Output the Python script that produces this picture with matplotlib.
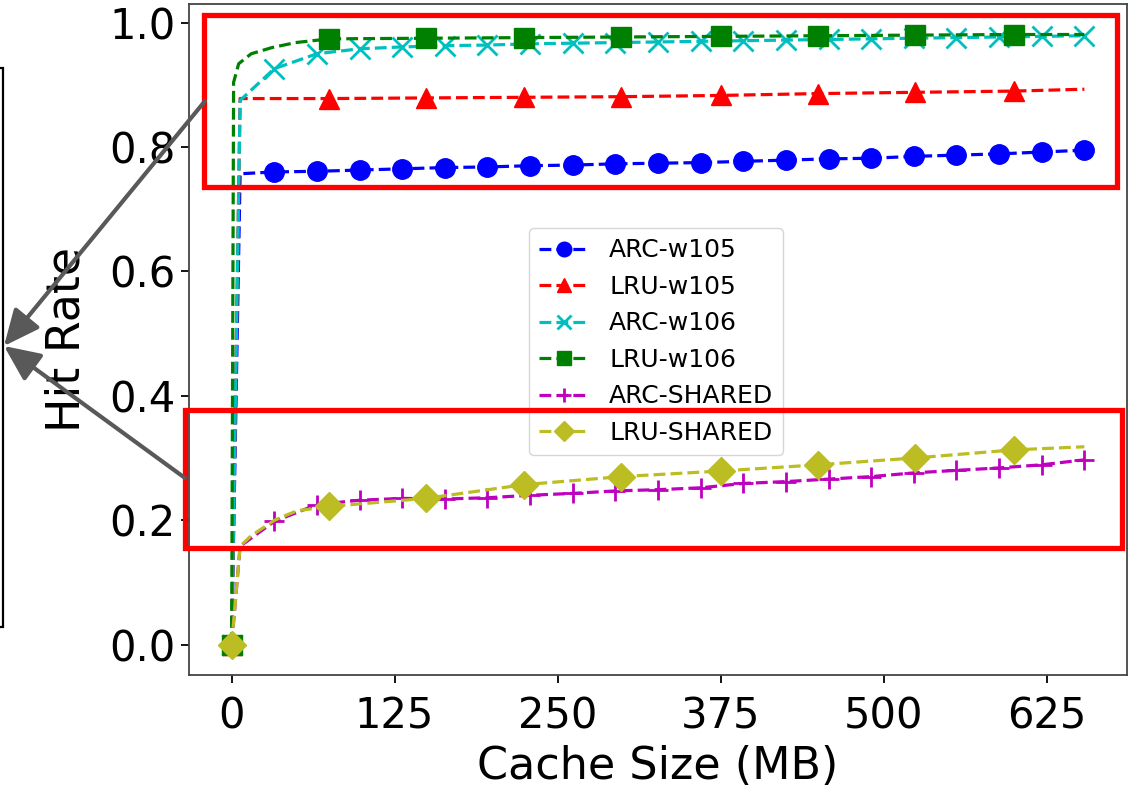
"""Hit rate vs cache size, ARC vs LRU, with slide-style callout boxes."""

import matplotlib

matplotlib.use("Agg")
import matplotlib.pyplot as plt  # noqa: E402
from matplotlib.patches import FancyArrowPatch, Rectangle  # noqa: E402

# ARC runs: 0, a small first size, then 20 evenly spaced cache sizes (MB)
arc_x = [0, 6.5, 32.7, 65.4, 98.1, 130.8, 163.5, 196.2, 228.9, 261.6, 294.3, 327.0,
         359.7, 392.4, 425.1, 457.8, 490.5, 523.2, 555.9, 588.6, 621.3, 654.0]
arc_w105 = [0, 0.757, 0.760, 0.761, 0.763, 0.765, 0.767, 0.768, 0.770, 0.771, 0.773, 0.774,
            0.775, 0.777, 0.779, 0.781, 0.782, 0.785, 0.787, 0.789, 0.792, 0.795]
arc_w106 = [0, 0.875, 0.926, 0.950, 0.958, 0.961, 0.963, 0.964, 0.966, 0.967, 0.968, 0.969,
            0.970, 0.971, 0.972, 0.973, 0.974, 0.975, 0.976, 0.977, 0.978, 0.979]
arc_shared = [0, 0.158, 0.198, 0.225, 0.232, 0.235, 0.234, 0.236, 0.240, 0.243, 0.247, 0.249,
              0.252, 0.259, 0.262, 0.266, 0.270, 0.276, 0.280, 0.284, 0.289, 0.297]

# LRU runs
lru_w105_x = [0, 6.5, 75, 149, 224, 299, 375, 450, 524, 600, 654]
lru_w105 = [0, 0.878, 0.878, 0.879, 0.880, 0.881, 0.883, 0.886, 0.888, 0.890, 0.893]
lru_w106_x = [0, 1.5, 5.4, 15, 31, 49, 75, 149, 224, 299, 375, 450, 524, 600, 654]
lru_w106 = [0, 0.904, 0.934, 0.950, 0.960, 0.968, 0.974, 0.975, 0.976, 0.977, 0.978,
            0.979, 0.980, 0.981, 0.981]
lru_shared_x = [0, 6.5, 15, 33, 50, 75, 149, 224, 299, 375, 450, 524, 600, 654]
lru_shared = [0, 0.158, 0.175, 0.200, 0.215, 0.222, 0.235, 0.257, 0.270, 0.279, 0.289,
              0.300, 0.313, 0.318]

x_ticks = [0, 125, 250, 375, 500, 625]

W, H = 1128, 792


def fp(x, y):
    # top-left pixel coords -> figure fraction
    return x / W, 1 - y / H


def marks(xs, lo, hi):
    return [0] + [i for i, v in enumerate(xs) if lo <= v <= hi]


fig = plt.figure(figsize=(W / 100, H / 100), dpi=100)
ax = fig.add_axes([189 / W, (H - 675) / H, 938 / W, 671 / H])

lw, ms = 2.3, 14
ax.plot(arc_x, arc_w105, "b--o", lw=lw, ms=ms, markevery=marks(arc_x, 30, 700),
        label="ARC-w105")
ax.plot(lru_w105_x, lru_w105, "r--^", lw=lw, ms=ms, markevery=marks(lru_w105_x, 70, 610),
        label="LRU-w105")
ax.plot(arc_x, arc_w106, "c--x", lw=lw, ms=ms, mew=2, markevery=marks(arc_x, 30, 700),
        label="ARC-w106")
ax.plot(lru_w106_x, lru_w106, "g--s", lw=lw, ms=ms, markevery=marks(lru_w106_x, 70, 610),
        label="LRU-w106")
ax.plot(arc_x, arc_shared, "m--+", lw=lw, ms=ms, mew=2, markevery=marks(arc_x, 30, 700),
        label="ARC-SHARED")
ax.plot(lru_shared_x, lru_shared, "--D", color="#bcbd22", lw=lw, ms=14,
        markevery=marks(lru_shared_x, 70, 610), label="LRU-SHARED")

ax.set_xticks(x_ticks)
ax.tick_params(labelsize=30, length=6, width=1.3)
ax.tick_params(axis="x", pad=9)
for s in ax.spines.values():
    s.set_linewidth(1.3)
    s.set_color("#444444")
ax.set_xlabel("Cache Size (MB)", fontsize=32, labelpad=5)
ax.set_ylabel("Hit Rate", fontsize=33, labelpad=14)

ax.legend(loc="lower left", bbox_to_anchor=(0.3625, 0.328), borderaxespad=0,
          fontsize=18, markerscale=0.75)

# slide annotations on top of the chart
red_boxes = [(204, 15, 1117, 187), (185, 410, 1122, 548)]
for x0, y0, x1, y1 in red_boxes:
    fx0, fy1 = fp(x0, y1)
    fx1, fy0 = fp(x1, y0)
    fig.add_artist(Rectangle((fx0, fy1), fx1 - fx0, fy0 - fy1, transform=fig.transFigure,
                             fill=False, edgecolor="#ff0000", lw=3.8, zorder=5))

bx0, by_top = fp(-100, 68)
bx1, by_bot = fp(3, 627)
fig.add_artist(Rectangle((bx0, by_bot), bx1 - bx0, by_top - by_bot, transform=fig.transFigure,
                         fill=False, edgecolor="black", lw=1.6, zorder=5))

tip = fp(4, 346)
for start in [(205, 101), (185, 478)]:
    fig.add_artist(FancyArrowPatch(fp(*start), tip, transform=fig.transFigure,
                                   arrowstyle="-|>,head_length=1.1,head_width=0.5",
                                   color="#595959", lw=3, mutation_scale=20,
                                   shrinkA=0, shrinkB=0, zorder=6))

fig.savefig("out.png", dpi=100)
